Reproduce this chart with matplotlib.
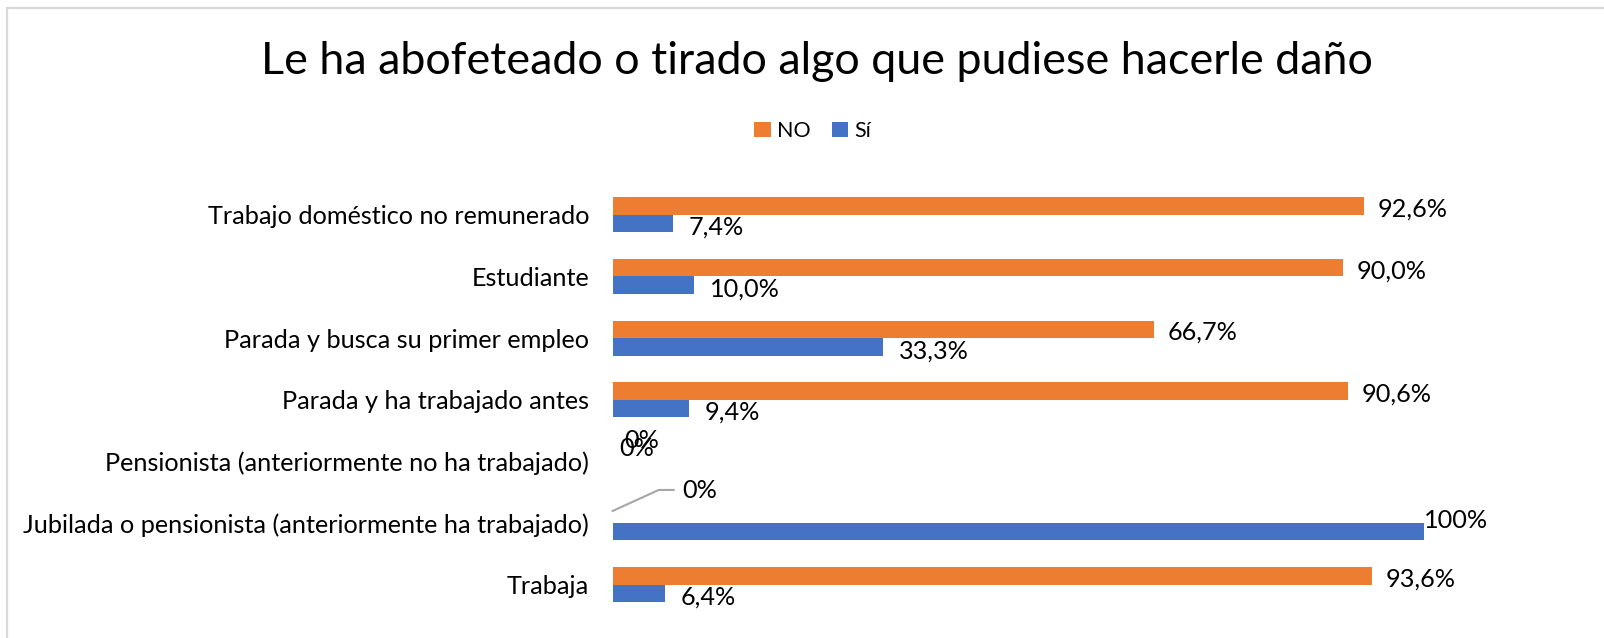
import matplotlib
matplotlib.use("Agg")
import matplotlib.pyplot as plt
from matplotlib.patches import Rectangle

categories = [
    "Trabajo doméstico no remunerado",
    "Estudiante",
    "Parada y busca su primer empleo",
    "Parada y ha trabajado antes",
    "Pensionista (anteriormente no ha trabajado)",
    "Jubilada o pensionista (anteriormente ha trabajado)",
    "Trabaja",
]
no_values = [92.6, 90.0, 66.7, 90.6, 0.0, 0.0, 93.6]
si_values = [7.4, 10.0, 33.3, 9.4, 0.0, 100.0, 6.4]
series_names = ["NO", "Sí"]
title = "Le ha abofeteado o tirado algo que pudiese hacerle daño"

C_NO = "#ED7D31"
C_SI = "#4472C4"
FONT = ["Lato", "DejaVu Sans"]
plt.rcParams["font.family"] = FONT

W, H = 1604, 638
fig = plt.figure(figsize=(W / 100, H / 100), dpi=100)
fig.patch.set_facecolor("white")

# chart frame
fig.add_artist(Rectangle((7 / W, -0.05), 1.2, 1 - 8 / H + 0.05, transform=fig.transFigure,
                         fill=False, edgecolor="#D9D9D9", linewidth=1.6))

ax = fig.add_axes([612.7 / W, 1 - 615.4 / H, (1424 - 612.7) / W, (615.4 - 184) / H])
ax.set_xlim(0, 100)
ax.set_ylim(len(categories) - 0.5, -0.5)
bh = 0.284
ys = list(range(len(categories)))
ax.barh([y - bh / 2 for y in ys], no_values, height=bh, color=C_NO, label=series_names[0])
ax.barh([y + bh / 2 for y in ys], si_values, height=bh, color=C_SI, label=series_names[1])
ax.set_yticks(ys)
ax.set_yticklabels(categories, fontsize=18.2, color="#000000")
ax.tick_params(axis="y", length=0, pad=17)
ax.set_xticks([])
for s in ax.spines.values():
    s.set_visible(False)


def fmt(v):
    if v == 0 or v == 100:
        return f"{v:.0f}%"
    return f"{v:.1f}%".replace(".", ",")


# label offsets in pixels (dx, dy); positive dy is upward
no_off = {4: (12, 12), 5: (70, 33 - 8.8)}
si_off = {4: (7, 22 - 8.8 + 8.8), 5: (0, 11)}
lab_fs = 18.2
for i, v in enumerate(no_values):
    yc = i - bh / 2
    dx, dy = no_off.get(i, (14, -3))
    ax.annotate(fmt(v), xy=(v, yc), xytext=(dx, dy), textcoords="offset pixels",
                fontsize=lab_fs, va="center", ha="left", color="#000000")
for i, v in enumerate(si_values):
    yc = i + bh / 2
    dx, dy = si_off.get(i, (16, -4))
    ax.annotate(fmt(v), xy=(v, yc), xytext=(dx, dy), textcoords="offset pixels",
                fontsize=lab_fs, va="center", ha="left", color="#000000")

# leader line for the Jubilada NO label (figure pixels)
fig.canvas.draw()
xi, yi = ax.transData.transform((no_values[5], 5))
fig.add_artist(plt.Line2D([xi / W, (xi + 46) / W, (xi + 61) / W],
                          [(yi + 12) / H, (yi + 33) / H, (yi + 33) / H],
                          transform=fig.transFigure, color="#A6A6A6", linewidth=1.5))

fig.text(817 / W, 1 - 61 / H, title, fontsize=32.3, ha="center", va="center", color="#000000")

leg = fig.legend(loc="center", bbox_to_anchor=(813 / W, 1 - 131 / H), ncol=2, frameon=False,
                 fontsize=15.5, handlelength=0.75, handleheight=0.75, handletextpad=0.3,
                 columnspacing=1.0)

fig.savefig("out.png", dpi=100, facecolor="white")
